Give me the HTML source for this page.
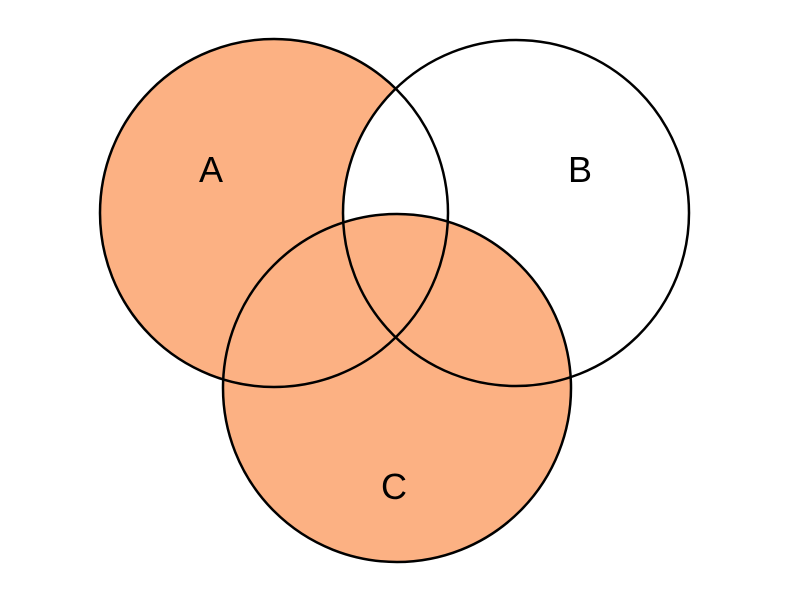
<!DOCTYPE html>
<html><head><meta charset="utf-8"><style>html,body{margin:0;padding:0;background:#fff}svg{display:block}</style></head>
<body>
<svg width="800" height="600" xmlns="http://www.w3.org/2000/svg">
<rect width="800" height="600" fill="#fff"/>
<circle cx="274" cy="213" r="174" fill="#FCB183"/>
<circle cx="516" cy="213" r="173" fill="#fff"/>
<circle cx="397" cy="388" r="174" fill="#FCB183"/>
<g fill="none" stroke="#000" stroke-width="2.5">
<circle cx="274" cy="213" r="174"/>
<circle cx="516" cy="213" r="173"/>
<circle cx="397" cy="388" r="174"/>
</g>
<g font-family="'Liberation Sans', sans-serif" font-size="36" fill="#000" text-anchor="middle">
<text x="211" y="182">A</text>
<text x="580" y="182">B</text>
<text x="394" y="499">C</text>
</g>
</svg>
</body></html>
